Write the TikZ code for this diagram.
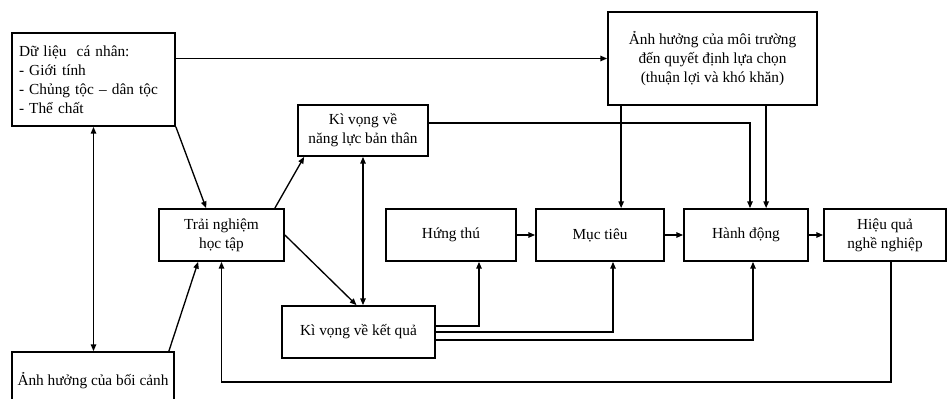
\documentclass[tikz,border=0pt]{standalone}
\usepackage{fontspec}
\setmainfont{Liberation Serif}
\usetikzlibrary{arrows.meta,calc}
\begin{document}
\begin{tikzpicture}[x=0.75pt,y=-0.75pt,
 box/.style={draw,line width=1.3pt,inner sep=2pt,align=center,font=\fontsize{11.5}{14.25}\selectfont},
 arr/.style={line width=1pt,-{Triangle[length=5pt,width=4pt]}},
 dbl/.style={line width=1pt,{Triangle[length=5pt,width=4pt]}-{Triangle[length=5pt,width=4pt]}}]
\clip (0,0) rectangle (949,399);
\fill[white] (0,0) rectangle (949,399);
% nodes
\node[box,minimum width=122.25pt,minimum height=69.75pt,text width=111.75pt,align=left,inner xsep=5.25pt] (data) at (93.5,79.5)
 {Dữ liệu\ \ cá nhân:\\- Giới tính\\- Chủng tộc – dân tộc\\- Thể chất};
\node[box,minimum width=156.75pt,minimum height=69.75pt] (env) at (712.5,58.5)
 {Ảnh hưởng của môi trường\\đến quyết định lựa chọn\\(thuận lợi và khó khăn)};
\node[box,minimum width=97.5pt,minimum height=38.25pt] (kvnl) at (363,130.5) {Kì vọng về\\năng lực bản thân};
\node[box,minimum width=93.75pt,minimum height=39pt] (tn) at (221.5,235) {Trải nghiệm\\học tập};
\node[box,minimum width=97.5pt,minimum height=39pt] (ht) at (451,235) {Hứng thú};
\node[box,minimum width=96pt,minimum height=39pt] (mt) at (600,235) {Mục tiêu};
\node[box,minimum width=93pt,minimum height=39pt] (hd) at (746,235) {Hành động};
\node[box,minimum width=91.5pt,minimum height=39pt] (hq) at (885,235) {Hiệu quả\\nghề nghiệp};
\node[box,minimum width=114.75pt,minimum height=39pt] (kvkq) at (358.5,332) {Kì vọng về kết quả};
\node[box,minimum width=121.5pt,minimum height=43.5pt] (bc) at (93,381) {Ảnh hưởng của bối cảnh};
% helper coordinates
\coordinate (e1) at ($(env.south west)+(14,0)$);
\coordinate (e2) at ($(env.south west)+(159,0)$);
\coordinate (k1) at ($(kvkq.east)+(0,-6)$);
\coordinate (k3) at ($(kvkq.east)+(0,8)$);
% connectors
\draw[arr] (data.east |- env.west) -- (env.west);
\draw[dbl] (data.south) -- (data.south |- bc.north);
\draw[arr] (data.south east) -- ($(tn.north west)+(48,0)$);
\draw[arr] ($(bc.north east)+(-6,0)$) -- ($(tn.south west)+(40,0)$);
\draw[arr] ($(tn.north east)+(-10,0)$) -- ($(kvnl.south west)+(7,0)$);
\draw[arr] (tn.east) -- ($(kvkq.north)+(-2,0)$);
\draw[dbl] (kvnl.south) -- (kvnl.south |- kvkq.north);
\draw[arr] ($(kvnl.east)+(0,-7.5)$) -| ($(hd.north)+(4,0)$);
\draw[arr] (e1) -- (e1 |- mt.north);
\draw[arr] (e2) -- (e2 |- hd.north);
\draw[arr] (ht.east) -- (mt.west);
\draw[arr] (mt.east) -- (hd.west);
\draw[arr] (hd.east) -- (hq.west);
\draw[arr] (k1) -| ($(ht.south)+(28,0)$);
\draw[arr] (kvkq.east) -| ($(mt.south)+(13,0)$);
\draw[arr] (k3) -| ($(hd.south)+(7,0)$);
\draw[arr] ($(hq.south)+(6,0)$) -- ++(0,120) -| (tn.south);
\end{tikzpicture}
\end{document}
